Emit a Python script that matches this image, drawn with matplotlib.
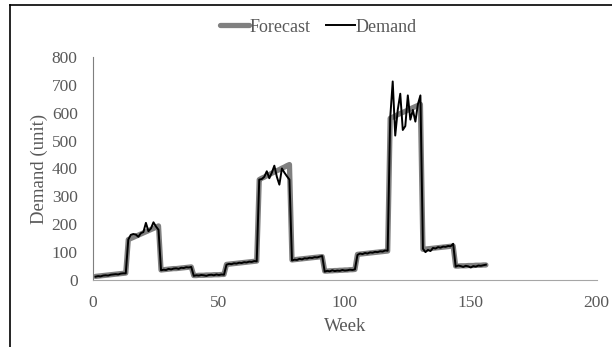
import numpy as np
import matplotlib.pyplot as plt
from matplotlib.lines import Line2D

plt.rcParams['font.family'] = ['Liberation Serif', 'DejaVu Serif']

weeks = list(range(1, 157))

forecast = [13, 14, 15, 16, 17, 18, 19, 20, 21, 22, 23, 24, 25,
            145, 149, 153, 157, 161, 165, 169, 173, 177, 181, 185, 189, 194,
            36, 37, 38, 39, 40, 41, 41, 42, 43, 44, 45, 46, 47,
            16, 16, 17, 17, 17, 18, 18, 18, 19, 19, 19, 20, 20,
            56, 57, 58, 59, 60, 61, 62, 63, 64, 65, 66, 67, 68,
            360, 365, 369, 374, 378, 383, 387, 392, 396, 401, 405, 410, 414,
            72, 73, 74, 75, 76, 77, 78, 79, 80, 81, 82, 83, 84,
            32, 32, 33, 33, 34, 34, 35, 35, 36, 36, 37, 37, 38,
            92, 93, 94, 95, 96, 97, 98, 99, 100, 101, 102, 103, 104,
            580, 584, 588, 593, 597, 601, 605, 609, 614, 618, 622, 626, 630,
            110, 111, 112, 113, 114, 115, 116, 117, 118, 119, 120, 121, 122,
            50, 50, 51, 51, 51, 52, 52, 52, 53, 53, 53, 54, 54]

demand = [12, 14, 13, 16, 17, 16, 19, 20, 21, 20, 23, 24, 24,
          145, 162, 165, 163, 155, 168, 172, 205, 175, 185, 207, 192, 180,
          35, 37, 36, 40, 38, 41, 42, 40, 44, 43, 46, 45, 47,
          15, 17, 16, 18, 17, 15, 18, 19, 17, 20, 18, 20, 19,
          55, 58, 57, 60, 59, 62, 61, 64, 63, 66, 65, 68, 67,
          360, 362, 370, 390, 365, 385, 410, 370, 342, 400, 385, 372, 360,
          70, 73, 72, 76, 74, 78, 77, 80, 79, 82, 81, 84, 86,
          30, 33, 31, 35, 32, 34, 33, 36, 34, 35, 37, 36, 38,
          90, 95, 93, 97, 95, 99, 98, 101, 100, 103, 102, 106, 105,
          580, 712, 518, 610, 668, 538, 552, 662, 575, 610, 568, 630, 662,
          112, 100, 108, 104, 115, 113, 118, 116, 120, 119, 122, 121, 130,
          48, 52, 50, 47, 51, 49, 45, 50, 48, 52, 51, 53, 55]

txt = '#595959'

fig = plt.figure(figsize=(6.12, 3.47), dpi=100)
ax = fig.add_axes([0.152, 0.193, 0.823, 0.643])

ax.plot(weeks, forecast, color='#808080', lw=3.8, label='Forecast', solid_capstyle='round')
ax.plot(weeks, demand, color='black', lw=1.4, label='Demand')

ax.set_xlim(0, 200)
ax.set_ylim(0, 800)
ax.set_xticks([0, 50, 100, 150, 200])
ax.set_yticks(range(0, 801, 100))
ax.tick_params(length=0, labelsize=12.5, labelcolor=txt)
ax.tick_params(axis='x', pad=11)
ax.tick_params(axis='y', pad=11)
for s in ['top', 'right']:
    ax.spines[s].set_visible(False)
ax.spines['left'].set_color('#7f7f7f')
ax.spines['bottom'].set_color('#a6a6a6')

ax.set_xlabel('Week', fontsize=13.5, color=txt, labelpad=5)
ax.set_ylabel('Demand (unit)', fontsize=13.5, color=txt, labelpad=3)

fig.legend(loc='center', bbox_to_anchor=(0.52, 0.922), ncol=2, frameon=False,
           fontsize=13, labelcolor=txt, handlelength=1.6, handletextpad=0.0,
           columnspacing=0.9)

# outer frame (only left and top edges visible in the crop)
fig.add_artist(Line2D([0.0163, 0.0163], [0, 0.9856], color='black', lw=1.2))
fig.add_artist(Line2D([0.0163, 1.0], [0.9856, 0.9856], color='black', lw=1.2))

fig.savefig('out.png', dpi=100)
